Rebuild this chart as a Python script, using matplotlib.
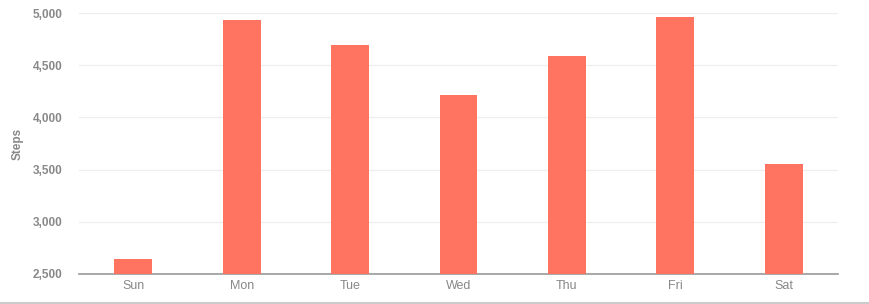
import matplotlib
matplotlib.use("Agg")
import matplotlib.pyplot as plt
from matplotlib.ticker import FuncFormatter
from matplotlib.lines import Line2D

days = ["Sun", "Mon", "Tue", "Wed", "Thu", "Fri", "Sat"]
steps = [2645, 4930, 4695, 4215, 4590, 4960, 3555]
y_ticks = [2500, 3000, 3500, 4000, 4500, 5000]

plt.rcParams['font.family'] = ['Liberation Sans', 'DejaVu Sans']

fig = plt.figure(figsize=(8.7, 3.04), dpi=100)
ax = fig.add_axes([79/870, 30/304, 759/870, 261/304])

x = list(range(len(days)))
ax.bar(x, steps, width=0.35, color="#FF7361", zorder=3)

ax.set_xlim(-0.5, len(days) - 0.5)
ax.set_ylim(2500, 5000)
ax.set_yticks(y_ticks)
ax.yaxis.set_major_formatter(FuncFormatter(lambda v, p: f"{int(v):,}"))
ax.set_xticks(x)
ax.set_xticklabels(days)

ax.grid(axis="y", color="#EEEEEE", linewidth=0.9, zorder=0)
for s in ["top", "right", "left"]:
    ax.spines[s].set_visible(False)
ax.spines["bottom"].set_color("#999999")
ax.spines["bottom"].set_linewidth(1.2)

ax.tick_params(axis="y", length=0, pad=12, labelsize=8.5, labelcolor="#888888")
for t in ax.get_yticklabels():
    t.set_fontweight("bold")
ax.tick_params(axis="x", length=0, pad=4, labelsize=9, labelcolor="#888888")

ax.set_ylabel("Steps", fontsize=8.5, fontweight="bold", color="#888888")
ax.yaxis.set_label_coords((24 - 79) / 759, 0.5)

fig.add_artist(Line2D([0, 1], [1.5/304, 1.5/304], color="#CCCCCC", linewidth=1.5, transform=fig.transFigure))

fig.savefig("out.png", dpi=100)
